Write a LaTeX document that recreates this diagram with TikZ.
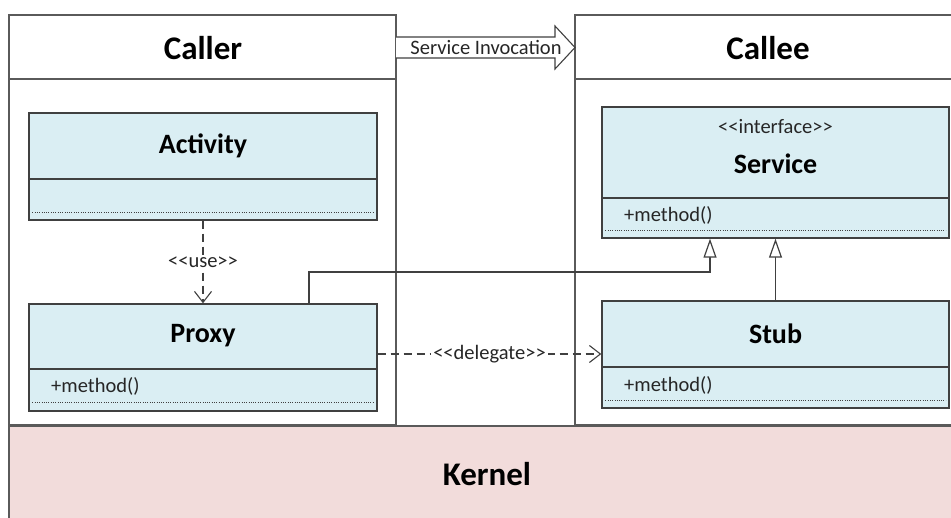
\documentclass[tikz,border=0pt]{standalone}
\usepackage{fontspec}
\setmainfont{Carlito}
\usetikzlibrary{arrows.meta,calc}

\definecolor{classfill}{HTML}{DAEEF3}
\definecolor{kernelfill}{HTML}{F2DCDB}
\definecolor{pen}{HTML}{404040}
\definecolor{softpen}{HTML}{5A5A5A}

\newcommand{\guil}[1]{<{}<#1>{}>}

\tikzset{
  region/.style={draw=softpen, line width=1.2pt, fill=white},
  classbox/.style={draw=pen, line width=1.4pt, fill=classfill, inner sep=0pt},
  sep/.style={draw=pen, line width=1.1pt},
  dots/.style={draw=pen, line width=0.8pt, dash pattern=on 1pt off 1.3pt},
  headtext/.style={font=\fontsize{33}{38}\selectfont\bfseries, inner sep=0pt},
  nametext/.style={font=\fontsize{28}{33}\selectfont\bfseries, inner sep=0pt},
  smalltext/.style={font=\fontsize{20.5}{24}\selectfont, inner sep=0pt, text=black!85},
  dep/.style={draw=pen, line width=1.2pt, dash pattern=on 8pt off 5pt,
    -{Straight Barb[length=11pt, width=17pt, line width=1.1pt]}},
  realize/.style={draw=pen, line width=1.2pt,
    -{Triangle[open, length=19pt, width=13pt, line width=1.2pt, fill=white]}},
  edgelabel/.style={smalltext, fill=white, inner xsep=2pt, inner ysep=1pt},
}

\begin{document}
\begin{tikzpicture}[x=1pt, y=-1pt]
\useasboundingbox (0,0) rectangle (951,518);
\clip (0,0) rectangle (951,518);

% outer regions
\node[region, minimum width=387pt, minimum height=410pt, inner sep=0pt] (caller) at (202.5,220) {};
\node[region, minimum width=387pt, minimum height=410pt, inner sep=0pt] (callee) at (768.5,220) {};
\node[draw=softpen, line width=1.2pt, fill=kernelfill, minimum width=960pt, minimum height=100pt, inner sep=0pt] (kernel) at (489,476) {};
\draw[sep, draw=softpen] (caller.west |- 0,79) -- (caller.east |- 0,79);
\draw[sep, draw=softpen] (callee.west |- 0,79) -- (callee.east |- 0,79);
\node[headtext] (callertitle) at (203,48) {Caller};
\node[headtext] (calleetitle) at (768,48) {Callee};
\node[headtext] (kerneltitle) at (487,474) {Kernel};

% block arrow between the two regions
\coordinate (ba1) at (396,37);
\coordinate (ba2) at (555,37);
\coordinate (ba3) at (555,26);
\coordinate (batip) at (575,47.5);
\coordinate (ba4) at (555,69);
\coordinate (ba5) at (555,58);
\coordinate (ba6) at (396,58);
\draw[draw=pen, line width=1.1pt, fill=white] (ba1) -- (ba2) -- (ba3) -- (batip) -- (ba4) -- (ba5) -- (ba6);
\node[smalltext] (invocation) at (486,47.5) {Service Invocation};

% class Activity
\node[classbox, minimum width=348pt, minimum height=107pt] (activity) at (203,166.5) {};
\draw[sep] (activity.west |- 0,179) -- (activity.east |- 0,179);
\draw[dots] ([xshift=4pt]activity.west |- 0,212) -- ([xshift=-4pt]activity.east |- 0,212);
\node[nametext] (activityname) at (203,146) {Activity};

% class Proxy
\node[classbox, minimum width=348pt, minimum height=107pt] (proxy) at (203,357.5) {};
\draw[sep] (proxy.west |- 0,369) -- (proxy.east |- 0,369);
\draw[dots] ([xshift=4pt]proxy.west |- 0,402) -- ([xshift=-4pt]proxy.east |- 0,402);
\node[nametext] (proxyname) at (203,336) {Proxy};
\node[smalltext, anchor=west] (proxyop) at (51,386) {+method()};

% interface Service
\node[classbox, minimum width=347pt, minimum height=131pt] (service) at (775.5,172.5) {};
\draw[sep] (service.west |- 0,198) -- (service.east |- 0,198);
\draw[dots] ([xshift=4pt]service.west |- 0,230) -- ([xshift=-4pt]service.east |- 0,230);
\node[smalltext] (stereo) at (775.5,127) {\guil{interface}};
\node[nametext] (servicename) at (775.5,164) {Service};
\node[smalltext, anchor=west] (serviceop) at (624,215) {+method()};

% class Stub
\node[classbox, minimum width=347pt, minimum height=107pt] (stub) at (775.5,354.5) {};
\draw[sep] (stub.west |- 0,367) -- (stub.east |- 0,367);
\draw[dots] ([xshift=4pt]stub.west |- 0,400) -- ([xshift=-4pt]stub.east |- 0,400);
\node[nametext] (stubname) at (775.5,334) {Stub};
\node[smalltext, anchor=west] (stubop) at (624,385) {+method()};

% connectors
\draw[dep] (activity.south) -- node[edgelabel] {\guil{use}} (proxy.north);

\coordinate (pv) at (309,0);
\coordinate (sv) at (710,0);
\coordinate (hy) at (0,272);
\draw[realize] (proxy.north -| pv) |- (hy -| sv) -- (service.south -| sv);
\draw[realize] (stub.north) -- (service.south -| stub.north);

\coordinate (dl) at (0,354);
\draw[dep] (proxy.east |- dl) -- node[edgelabel] {\guil{delegate}} (stub.west |- dl);
\end{tikzpicture}
\end{document}
